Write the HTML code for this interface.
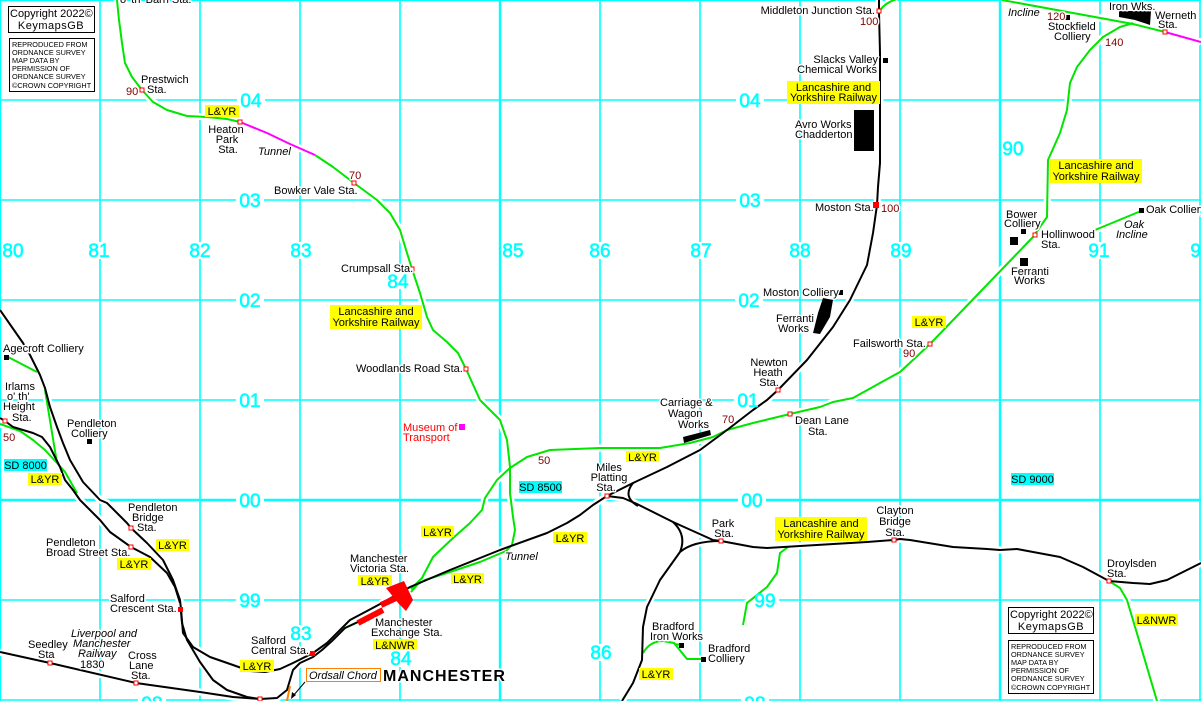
<!DOCTYPE html>
<html><head><meta charset="utf-8"><style>
html,body{margin:0;padding:0;background:#fff;}
svg{display:block;}
text{font-family:"Liberation Sans",sans-serif;font-size:11px;fill:#000;}
.h{paint-order:stroke;stroke:#fff;stroke-width:3px;stroke-linejoin:round;}
.r{fill:#800000;}
.i{font-style:italic;}
.g{font-size:19px;fill:#00ffff;stroke:#00ffff;stroke-width:0.6px;text-anchor:middle;}
.s{font-size:7.3px;}
.c{text-anchor:middle;}
.e{text-anchor:end;}
</style></head><body>
<svg width="1201" height="701" viewBox="0 0 1201 701" xmlns="http://www.w3.org/2000/svg">
<defs>
<g id="G" fill="none">
<path d="M117,0 L119,20 L122,43 L125,63 L132,77 L142,90 L153,102 L167,110 L187,116 L207,117 L227,119 L240,122"/>
<path d="M315,155 L333,167 L354,183 L377,200 L390,213 L400,230 L407,253 L412,269 L420,293 L427,317 L433,330 L447,342 L458,353 L466,369 L480,400 L500,420 L507,440 L510,467 L510,493 L513,517 L515,530 L512,545 L506,551 L480,562 L450,572 L425,580 L418,584 L411,592"/>
<path d="M411,589 L422,578 L433,557 L453,538 L470,523 L482,510 L485,498 L497,480 L510,468 L527,457 L550,450 L600,448 L660,448 L690,443 L713,437 L727,430 L753,423 L790,414 L820,407 L833,402 L853,398 L880,383 L900,372 L913,360 L930,344 L1033,237 L1047,217 L1048,160 L1060,133 L1067,110 L1070,83 L1077,67 L1090,50 L1103,37 L1120,27 L1133,23"/>
<path d="M879,12 Q884,3 897,-1"/>
<path d="M1002,0 L1133,24 L1165,32"/>
<path d="M1095,230 L1141,211"/>
<path d="M788,547 L780,553 L777,573 L767,587 L747,603 L743,625"/>
<path d="M643,653 Q650,641 663,641 L674,643 L687,659 L703,659 M674,644 L681,645"/>
<path d="M1109,581 L1120,588 L1127,600 L1133,620 L1157,701"/>
<path d="M8,357 L37,372"/>
<path d="M45,390 L57,463"/>
<path d="M0,424 L20,431 L33,440 L45,450 L57,463 L65,472 L77,493"/>
<path d="M345,628 L360,621"/>
</g>
<g id="M" fill="none">
<path d="M240,122 L267,133 L290,144 L315,155"/>
<path d="M1165,32 L1201,42"/>
</g>
<g id="K" fill="none">
<path d="M879,-1 L879,12 L880,53 L880,163 L878,187 L877,205 L873,233 L867,265 L850,300 L833,327 L807,360 L778,390 L767,400 L753,410 L727,430 L700,450 L667,467 L633,483 L607,496 L593,505 L580,515 L567,523 L547,533 L500,550 L450,570 L410,587 L382,603"/>
<path d="M607,496 L623,498 L637,504 L673,522 L713,540 L721,541 L753,547 L767,548 L800,546 L867,542 L894,540 L900,539 L910,540 L953,547 L987,549 L1000,550 L1017,549 L1060,557 L1083,567 L1109,581 L1133,583 L1150,584 L1167,580 L1183,572 L1201,563"/>
<path d="M633,483 Q622,497 638,506"/>
<path d="M673,522 Q687,535 680,552 M721,541 Q693,541 680,552 L660,580 L647,607 L643,627 L642,660 L633,683 L622,701"/>
<path d="M0,310 L23,343 L30,355 L40,375 L45,388 L50,407 L57,427 L63,443 L70,460 L83,482 L100,500 L107,503 L127,523 L131,528 L147,543 L163,560 L173,580 L180,600 L181,609 L183,633 L193,647 L210,657 L233,665 L250,671 L265,672 L280,669 L293,663 L313,653 L327,643 L340,630 L350,620 L367,611 L382,603"/>
<path d="M0,418 L5,421 L13,427 L33,433 L42,437 L50,447 L55,457 L60,467 L65,480 L73,490 L80,500 L100,520 L110,532 L131,547 L150,557 L167,573 L175,587 L180,603"/>
<path d="M181,612 L182,623 L187,640 L200,662 L213,680 L227,690 L247,697 L260,699"/>
<path d="M0,652 L50,663 L136,683 L200,692 L233,697 L260,699 L277,698 L287,690 L290,680 L293,670 L300,663 L313,657 L322,650 L332,641 L345,628 L358,622"/>
</g>
</defs>
<rect width="1201" height="701" fill="#fff"/>
<!-- grid -->
<g stroke="#00ffff" stroke-width="1.6" fill="none">
<path d="M100,0V701M200,0V701M300,0V701M400,0V701M600,0V701M700,0V701M800,0V701M900,0V701M1100,0V701M1200,0V701"/>
<path d="M0,100H1201M0,200H1201M0,300H1201M0,400H1201M0,600H1201M0,700H1201"/>
</g>
<g stroke="#00ffff" stroke-width="2.4" fill="none">
<path d="M0,0V701M500,0V701M1000,0V701M0,500H1201M0,0H1201"/>
</g>
<!-- grid label backgrounds -->
<g fill="#fff">
<rect x="237" y="92" width="28" height="17"/><rect x="736" y="92" width="28" height="17"/>
<rect x="236" y="192" width="28" height="17"/><rect x="736" y="192" width="28" height="17"/>
<rect x="236" y="292" width="28" height="17"/><rect x="735" y="292" width="28" height="17"/>
<rect x="236" y="392" width="28" height="17"/><rect x="734" y="392" width="28" height="17"/>
<rect x="236" y="492" width="28" height="17"/><rect x="738" y="492" width="28" height="17"/>
<rect x="236" y="592" width="28" height="17"/><rect x="751" y="592" width="28" height="17"/>
<rect x="138" y="693" width="28" height="8"/><rect x="741" y="693" width="28" height="8"/>
<rect x="287" y="242" width="28" height="17"/><rect x="186" y="242" width="28" height="17"/>
<rect x="85" y="242" width="28" height="17"/><rect x="586" y="242" width="28" height="17"/>
<rect x="687" y="242" width="28" height="17"/><rect x="786" y="242" width="28" height="17"/>
<rect x="887" y="242" width="28" height="17"/><rect x="1085" y="242" width="28" height="17"/>
<rect x="287" y="625" width="28" height="17"/><rect x="387" y="650" width="28" height="17"/>
<rect x="587" y="644" width="28" height="17"/><rect x="384" y="272" width="28" height="17"/>
</g>
<!-- rails: casing then lines -->
<use href="#G" stroke="#fff" stroke-width="7" stroke-linejoin="round"/>
<use href="#M" stroke="#fff" stroke-width="7" stroke-linejoin="round"/>
<use href="#K" stroke="#fff" stroke-width="7" stroke-linejoin="round"/>
<use href="#G" stroke="#00e600" stroke-width="2" stroke-linejoin="round"/>
<use href="#M" stroke="#ff00ff" stroke-width="2" stroke-linejoin="round"/>
<use href="#K" stroke="#000" stroke-width="2" stroke-linejoin="round"/>
<path d="M290,686 L287,701" stroke="#ff8000" stroke-width="2" fill="none"/>
<!-- Victoria / Exchange -->
<g fill="#f00">
<polygon points="386,588 404,581 413,600 406,611 399,604"/>
</g>
<path d="M381,605 L396,598" stroke="#f00" stroke-width="6"/>
<path d="M358,623 L383,610" stroke="#f00" stroke-width="6"/>
<!-- Carriage works, Avro, Ferranti, Iron works -->
<g fill="#000">
<polygon points="683,437 710,430 711,435 684,443"/>
<rect x="854" y="110" width="20" height="41"/>
<polygon points="823,298 833,300 830,317 820,334 813,333 818,313"/>
<polygon points="1119,11 1151,11 1150,25 1135,20 1119,17"/>
<rect x="883" y="58" width="5" height="5"/>
<rect x="1065" y="15" width="5" height="5"/>
<rect x="1139" y="208" width="5" height="5"/>
<rect x="1021" y="229" width="5" height="5"/>
<rect x="1010" y="237" width="8" height="8"/>
<rect x="1020" y="258" width="8" height="8"/>
<rect x="838" y="290" width="5" height="5"/>
<rect x="4" y="355" width="5" height="5"/>
<rect x="87" y="439" width="5" height="5"/>
<rect x="679" y="643" width="5" height="5"/>
<rect x="701" y="657" width="5" height="5"/>
</g>
<rect x="459" y="424" width="6" height="6" fill="#ff00ff"/>
<!-- stations hollow -->
<g fill="#fff" stroke="#f00" stroke-width="1">
<rect x="140" y="88" width="4" height="4"/>
<rect x="238" y="120" width="4" height="4"/>
<rect x="352" y="181" width="4" height="4"/>
<rect x="410" y="267" width="4" height="4"/>
<rect x="464" y="367" width="4" height="4"/>
<rect x="877" y="9" width="4" height="4"/>
<rect x="776" y="388" width="4" height="4"/>
<rect x="788" y="412" width="4" height="4"/>
<rect x="928" y="342" width="4" height="4"/>
<rect x="1033" y="233" width="4" height="4"/>
<rect x="1163" y="30" width="4" height="4"/>
<rect x="605" y="494" width="4" height="4"/>
<rect x="719" y="539" width="4" height="4"/>
<rect x="892" y="538" width="4" height="4"/>
<rect x="1107" y="579" width="4" height="4"/>
<rect x="3" y="419" width="4" height="4"/>
<rect x="129" y="526" width="4" height="4"/>
<rect x="129" y="545" width="4" height="4"/>
<rect x="48" y="661" width="4" height="4"/>
<rect x="134" y="681" width="4" height="4"/>
<rect x="258" y="697" width="4" height="4"/>
</g>
<g fill="#f00">
<rect x="873" y="202" width="6" height="6"/>
<rect x="178" y="607" width="5" height="5"/>
<rect x="310" y="651" width="5" height="5"/>
</g>
<!-- yellow boxes -->
<g fill="#ffff00">
<rect x="205" y="105" width="34" height="12"/>
<rect x="912" y="316" width="34" height="12"/>
<rect x="626" y="451" width="33" height="11"/>
<rect x="553" y="532" width="34" height="11"/>
<rect x="421" y="526" width="33" height="11"/>
<rect x="451" y="573" width="33" height="11"/>
<rect x="358" y="575" width="34" height="11"/>
<rect x="639" y="668" width="34" height="12"/>
<rect x="28" y="473" width="34" height="12"/>
<rect x="156" y="539" width="33" height="12"/>
<rect x="117" y="558" width="34" height="12"/>
<rect x="240" y="660" width="34" height="12"/>
<rect x="373" y="639" width="44" height="11"/>
<rect x="1135" y="614" width="43" height="12"/>
<rect x="330" y="305" width="92" height="24"/>
<rect x="787" y="81" width="93" height="23"/>
<rect x="1050" y="159" width="92" height="24"/>
<rect x="775" y="517" width="92" height="24"/>
</g>
<g fill="#00ffff">
<rect x="4" y="459" width="43" height="12"/>
<rect x="519" y="481" width="43" height="12"/>
<rect x="1011" y="473" width="43" height="12"/>
</g>
<g class="c">
<text class="c" x="222" y="115">L&amp;YR</text>
<text class="c" x="929" y="326">L&amp;YR</text>
<text class="c" x="642.5" y="461">L&amp;YR</text>
<text class="c" x="570" y="542">L&amp;YR</text>
<text class="c" x="437.5" y="536">L&amp;YR</text>
<text class="c" x="467.5" y="583">L&amp;YR</text>
<text class="c" x="375" y="585">L&amp;YR</text>
<text class="c" x="656" y="678">L&amp;YR</text>
<text class="c" x="45" y="483">L&amp;YR</text>
<text class="c" x="172.5" y="549">L&amp;YR</text>
<text class="c" x="134" y="568">L&amp;YR</text>
<text class="c" x="257" y="670">L&amp;YR</text>
<text class="c" x="395" y="649">L&amp;NWR</text>
<text class="c" x="1156.5" y="624">L&amp;NWR</text>
<text class="c" x="376" y="315">Lancashire and</text>
<text class="c" x="376" y="326">Yorkshire Railway</text>
<text class="c" x="833.5" y="91">Lancashire and</text>
<text class="c" x="833.5" y="101">Yorkshire Railway</text>
<text class="c" x="1096" y="169">Lancashire and</text>
<text class="c" x="1096" y="180">Yorkshire Railway</text>
<text class="c" x="821" y="527">Lancashire and</text>
<text class="c" x="821" y="538">Yorkshire Railway</text>
<text class="c" x="25.5" y="469">SD 8000</text>
<text class="c" x="540.5" y="491">SD 8500</text>
<text class="c" x="1032.5" y="483">SD 9000</text>
</g>
<!-- grid labels -->
<g>
<text class="g" x="13" y="257">80</text>
<text class="g" x="99" y="257">81</text>
<text class="g" x="200" y="257">82</text>
<text class="g" x="301" y="257">83</text>
<text class="g" x="398" y="288">84</text>
<text class="g" x="513" y="257">85</text>
<text class="g" x="600" y="257">86</text>
<text class="g" x="701" y="257">87</text>
<text class="g" x="800" y="257">88</text>
<text class="g" x="901" y="257">89</text>
<text class="g" x="1013" y="155">90</text>
<text class="g" x="1099" y="257">91</text>
<text class="g" x="1201" y="257">92</text>
<text class="g" x="251" y="107">04</text><text class="g" x="750" y="107">04</text>
<text class="g" x="250" y="207">03</text><text class="g" x="750" y="207">03</text>
<text class="g" x="250" y="307">02</text><text class="g" x="749" y="307">02</text>
<text class="g" x="250" y="407">01</text><text class="g" x="748" y="407">01</text>
<text class="g" x="250" y="507">00</text><text class="g" x="752" y="507">00</text>
<text class="g" x="250" y="607">99</text><text class="g" x="765" y="607">99</text>
<text class="g" x="152" y="710">98</text><text class="g" x="755" y="710">98</text>
<text class="g" x="301" y="640">83</text>
<text class="g" x="401" y="665">84</text>
<text class="g" x="601" y="659">86</text>
</g>
<!-- black labels -->
<g>
<text class="h" x="120" y="3">o' th' Barn Sta.</text>
<text class="h" x="141" y="83">Prestwich</text>
<text class="h" x="147" y="93">Sta.</text>
<text class="h r" x="126" y="95">90</text>
<text class="h c" x="226" y="133">Heaton</text>
<text class="h c" x="227" y="143">Park</text>
<text class="h c" x="228" y="153">Sta.</text>
<text class="h i" x="258" y="155">Tunnel</text>
<text class="h r" x="349" y="179">70</text>
<text class="h" x="274" y="194">Bowker Vale Sta.</text>
<text class="h" x="341" y="272">Crumpsall Sta.</text>
<text class="h" x="356" y="372">Woodlands Road Sta.</text>
<text class="h" x="403" y="431" style="fill:#f00">Museum of</text>
<text class="h" x="403" y="441" style="fill:#f00">Transport</text>
<text class="h r" x="538" y="464">50</text>
<text class="h i" x="505" y="560">Tunnel</text>
<text class="h c" x="609" y="471">Miles</text>
<text class="h c" x="609" y="481">Platting</text>
<text class="h c" x="606" y="491">Sta.</text>
<text class="h" x="660" y="406">Carriage &amp;</text>
<text class="h" x="668" y="417">Wagon</text>
<text class="h" x="678" y="428">Works</text>
<text class="h r" x="722" y="423">70</text>
<text class="h c" x="769" y="366">Newton</text>
<text class="h c" x="768" y="376">Heath</text>
<text class="h c" x="769" y="386">Sta.</text>
<text class="h" x="795" y="424">Dean Lane</text>
<text class="h" x="808" y="435">Sta.</text>
<text class="h c" x="723" y="527">Park</text>
<text class="h c" x="724" y="537">Sta.</text>
<text class="h c" x="895" y="514">Clayton</text>
<text class="h c" x="895" y="525">Bridge</text>
<text class="h c" x="895" y="536">Sta.</text>
<text class="h" x="1107" y="567">Droylsden</text>
<text class="h" x="1107" y="577">Sta.</text>
<text class="h" x="652" y="630">Bradford</text>
<text class="h" x="650" y="640">Iron Works</text>
<text class="h" x="708" y="652">Bradford</text>
<text class="h" x="708" y="662">Colliery</text>
<text class="h" x="763" y="296">Moston Colliery</text>
<text class="h" x="776" y="322">Ferranti</text>
<text class="h" x="778" y="332">Works</text>
<text class="h" x="853" y="347">Failsworth Sta.</text>
<text class="h r" x="903" y="357">90</text>
<text class="h" x="815" y="211">Moston Sta.</text>
<text class="h r" x="881" y="212">100</text>
<text class="h" x="795" y="128">Avro Works</text>
<text class="h" x="795" y="138">Chadderton</text>
<text class="h e" x="878" y="63">Slacks Valley</text>
<text class="h e" x="877" y="73">Chemical Works</text>
<text class="h e" x="875" y="14">Middleton Junction Sta.</text>
<text class="h r" x="860" y="25">100</text>
<text class="h i" x="1008" y="16">Incline</text>
<text class="h r" x="1047" y="20">120</text>
<text class="h" x="1048" y="30">Stockfield</text>
<text class="h" x="1054" y="40">Colliery</text>
<text class="h" x="1109" y="10">Iron Wks.</text>
<text class="h" x="1155" y="19">Werneth</text>
<text class="h" x="1158" y="28">Sta.</text>
<text class="h r" x="1105" y="46">140</text>
<text class="h" x="1006" y="218">Bower</text>
<text class="h" x="1004" y="227">Colliery</text>
<text class="h" x="1041" y="238">Hollinwood</text>
<text class="h" x="1041" y="248">Sta.</text>
<text class="h" x="1011" y="275">Ferranti</text>
<text class="h" x="1014" y="284">Works</text>
<text class="h" x="1146" y="213">Oak Colliery</text>
<text class="h i" x="1124" y="228">Oak</text>
<text class="h i" x="1116" y="238">Incline</text>
<text class="h" x="3" y="352">Agecroft Colliery</text>
<text class="h" x="5" y="390">Irlams</text>
<text class="h" x="7" y="400">o' th'</text>
<text class="h" x="3" y="410">Height</text>
<text class="h" x="12" y="421">Sta.</text>
<text class="h r" x="3" y="441">50</text>
<text class="h" x="67" y="427">Pendleton</text>
<text class="h" x="71" y="437">Colliery</text>
<text class="h" x="128" y="511">Pendleton</text>
<text class="h" x="132" y="521">Bridge</text>
<text class="h" x="137" y="531">Sta.</text>
<text class="h" x="46" y="546">Pendleton</text>
<text class="h" x="46" y="556">Broad Street Sta.</text>
<text class="h" x="110" y="602">Salford</text>
<text class="h" x="110" y="612">Crescent Sta.</text>
<text class="h" x="28" y="648">Seedley</text>
<text class="h" x="38" y="658">Sta</text>
<text class="h i" x="71" y="637">Liverpool and</text>
<text class="h i" x="73" y="647">Manchester</text>
<text class="h i" x="78" y="657">Railway</text>
<text class="h" x="80" y="668">1830</text>
<text class="h" x="128" y="659">Cross</text>
<text class="h" x="129" y="669">Lane</text>
<text class="h" x="131" y="679">Sta.</text>
<text class="h" x="251" y="644">Salford</text>
<text class="h" x="251" y="654">Central Sta.</text>
<text class="h" x="350" y="562">Manchester</text>
<text class="h" x="350" y="572">Victoria Sta.</text>
<text class="h" x="375" y="626">Manchester</text>
<text class="h" x="371" y="636">Exchange Sta.</text>
<text class="h" x="383" y="681" style="font-size:16px;font-weight:bold;letter-spacing:1px">MANCHESTER</text>
</g>
<!-- Ordsall chord -->
<rect x="306.5" y="668.5" width="74" height="13" fill="#fff" stroke="#ff8000" stroke-width="1"/>
<text class="i" x="309" y="679">Ordsall Chord</text>
<path d="M305,682 L293,696" stroke="#000" stroke-width="1" fill="none"/>
<polygon points="291,699 292,692 296,695" fill="#000"/>
<!-- copyright boxes -->
<g fill="#fff" stroke="#000" stroke-width="1">
<rect x="8.5" y="6.5" width="86" height="26"/>
<rect x="9.5" y="38.5" width="85" height="53"/>
<rect x="1008.5" y="607.5" width="85" height="26"/>
<rect x="1008.5" y="640.5" width="85" height="53"/>
</g>
<text x="10" y="17">Copyright 2022©</text>
<text class="c" x="51" y="29" style="letter-spacing:0.5px">KeymapsGB</text>
<g>
<text class="s" x="12" y="47">REPRODUCED FROM</text>
<text class="s" x="12" y="55">ORDNANCE SURVEY</text>
<text class="s" x="12" y="63">MAP DATA BY</text>
<text class="s" x="12" y="71">PERMISSION OF</text>
<text class="s" x="12" y="79">ORDNANCE SURVEY</text>
<text class="s" x="12" y="88">©CROWN COPYRIGHT</text>
</g>
<text x="1010" y="618">Copyright 2022©</text>
<text class="c" x="1051" y="630" style="letter-spacing:0.5px">KeymapsGB</text>
<g>
<text class="s" x="1011" y="649">REPRODUCED FROM</text>
<text class="s" x="1011" y="657">ORDNANCE SURVEY</text>
<text class="s" x="1011" y="665">MAP DATA BY</text>
<text class="s" x="1011" y="673">PERMISSION OF</text>
<text class="s" x="1011" y="681">ORDNANCE SURVEY</text>
<text class="s" x="1011" y="690">©CROWN COPYRIGHT</text>
</g>
</svg>
</body></html>
